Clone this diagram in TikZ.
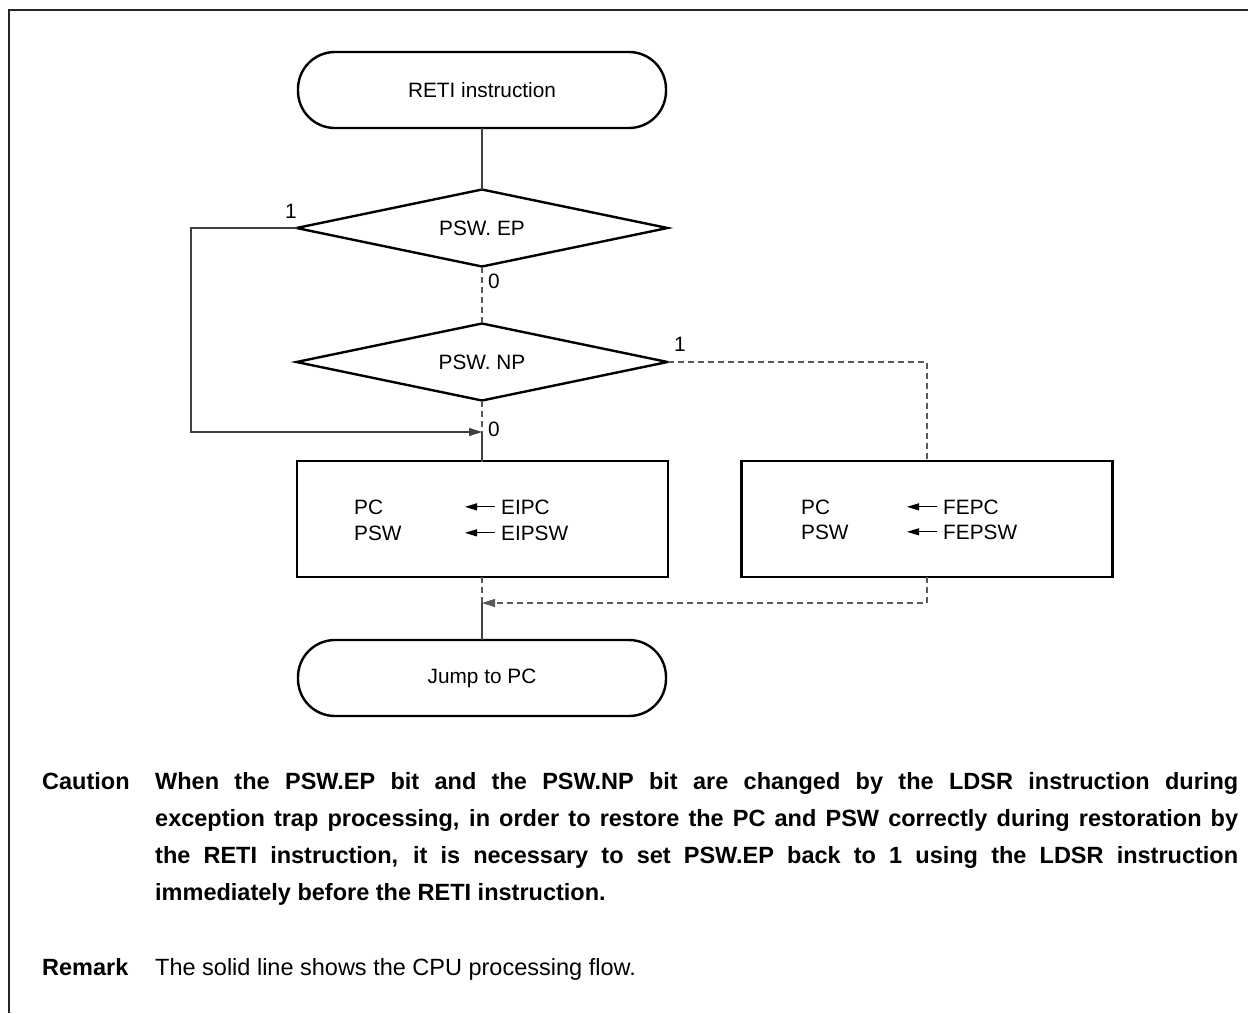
\documentclass[tikz,border=0pt]{standalone}
\usepackage{fontspec}
\setmainfont{Liberation Sans}
\usetikzlibrary{shapes.geometric,arrows.meta}
\newcommand\flowfont{\fontsize{20.8}{24}\selectfont}
\newcommand\notefont{\fontsize{23.5}{28}\selectfont}
\begin{document}
\begin{tikzpicture}[x=1pt,y=-1pt,
  term/.style={draw,line width=2.4pt,rounded corners=37pt,minimum width=368pt,minimum height=76pt,inner sep=0pt,outer sep=0pt,font=\flowfont},
  decide/.style={draw,diamond,aspect=4.82,line width=2.4pt,minimum width=371pt,minimum height=77pt,inner sep=0pt,outer sep=0pt,font=\flowfont},
  procbox/.style={draw,line width=2.4pt,minimum width=371pt,minimum height=116pt,inner sep=0pt,outer sep=0pt},
  txt/.style={font=\flowfont,inner sep=0pt,anchor=base west},
  lbl/.style={font=\flowfont,inner sep=0pt},
  flow/.style={draw=black!75,line width=1.1pt},
  dsh/.style={draw=black!65,line width=1.1pt,dash pattern=on 6pt off 4pt},
  tip/.style={-{Triangle[length=13pt,width=8pt]}},
  smalltip/.style={draw=black,line width=1pt,-{Triangle[length=12pt,width=7pt]}},
  note/.style={font=\notefont,inner sep=0pt,anchor=base west}]
\useasboundingbox (0,0) rectangle (1248,1013);
\fill[white] (0,0) rectangle (1248,1013);
% frame
\draw[line width=2pt,black!85] (9,1013) -- (9,10) -- (1248,10);

% nodes
\node[term] (start) at (482,90) {RETI instruction};
\node[decide] (ep) at (482,228) {PSW. EP};
\node[decide] (np) at (482,362) {PSW. NP};
\node[procbox] (box1) at (482.5,519) {};
\node[procbox] (box2) at (927,519) {};
\node[term] (stop) at (482,678) {Jump to PC};

% box texts
\node[txt] (pc1) at (354,514) {PC};
\node[txt] (psw1) at (354,540) {PSW};
\node[txt] (eipc) at (501,514) {EIPC};
\node[txt] (eipsw) at (501,540) {EIPSW};
\draw[smalltip] ([xshift=-6pt]eipc.west) -- ++(-30,0);
\draw[smalltip] ([xshift=-6pt]eipsw.west) -- ++(-30,0);
\node[txt] (pc2) at (801,514) {PC};
\node[txt] (psw2) at (801,539) {PSW};
\node[txt] (fepc) at (943,514) {FEPC};
\node[txt] (fepsw) at (943,539) {FEPSW};
\draw[smalltip] ([xshift=-6pt]fepc.west) -- ++(-30,0);
\draw[smalltip] ([xshift=-6pt]fepsw.west) -- ++(-30,0);

% labels
\node[lbl] (l1) at (291,211) {1};
\node[lbl] (l2) at (494,281) {0};
\node[lbl] (l3) at (680,344) {1};
\node[lbl] (l4) at (494,429) {0};

% connectors
\coordinate (loopc) at (191,432);
\coordinate (m1) at (482,432);
\coordinate (m2) at (482,603);
\draw[flow] (start.south) -- (ep.north);
\draw[dsh] (ep.south) -- (np.north);
\draw[dsh] (np.south) -- (m1 |- box1.north);
\draw[flow,tip] (ep.west) -| (loopc) -- (m1);
\draw[flow] (m1) -- (m1 |- box1.north);
\draw[dsh] (np.east) -| (box2.north);
\draw[dsh] (m1 |- box1.south) -- (m2);
\draw[dsh,tip] (box2.south) |- (m2);
\draw[flow] (m2) -- (stop.north);

% notes
\node[note] (caution) at (42,789) {\bfseries Caution};
\node[note] (c1) at (155,789) {\bfseries\makebox[1083pt][s]{When the PSW.EP bit and the PSW.NP bit are changed by the LDSR instruction during}};
\node[note] (c2) at (155,826) {\bfseries\makebox[1083pt][s]{exception trap processing, in order to restore the PC and PSW correctly during restoration by}};
\node[note] (c3) at (155,863) {\bfseries\makebox[1083pt][s]{the RETI instruction, it is necessary to set PSW.EP back to 1 using the LDSR instruction}};
\node[note] (c4) at (155,900) {\bfseries immediately before the RETI instruction.};
\node[note] (remark) at (42,975) {\bfseries Remark};
\node[note] (r1) at (155,975) {The solid line shows the CPU processing flow.};
\end{tikzpicture}
\end{document}
